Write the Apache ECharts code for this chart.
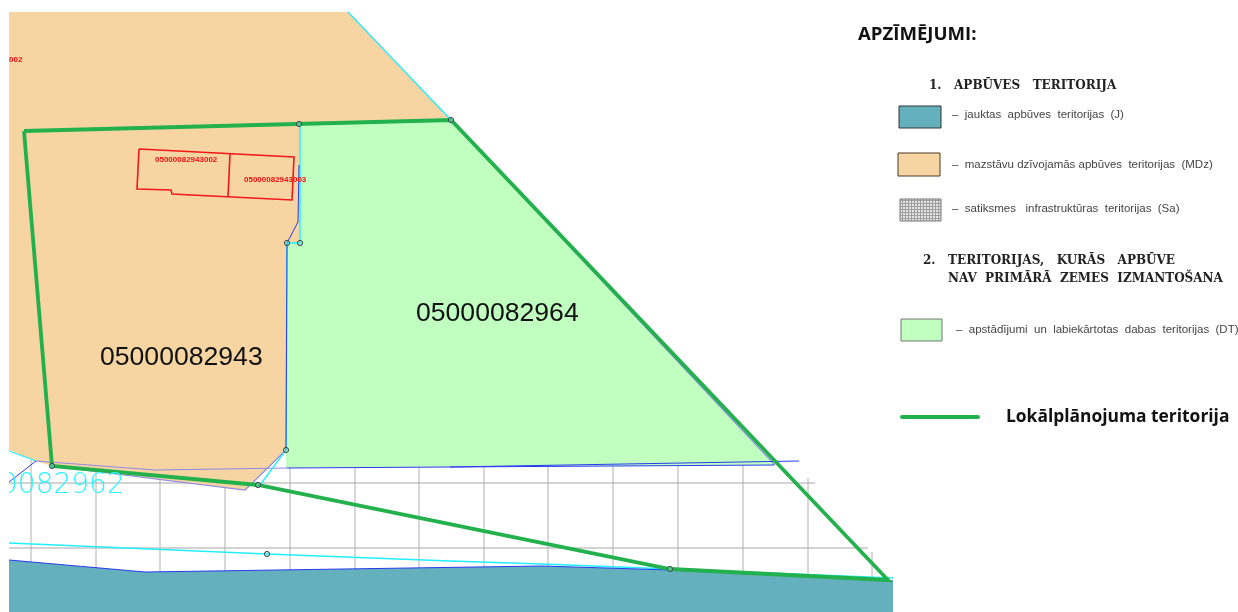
<!DOCTYPE html>
<html><head><meta charset="utf-8">
<style>html,body{margin:0;padding:0;background:#fff}#c{width:1238px;height:612px}</style>
<script src="https://cdn.jsdelivr.net/npm/echarts@6/dist/echarts.min.js"></script>
</head><body><div id="c"></div>
<script>
// map parcels (picture coordinates)
const mdzArea = [[9,12],[348,12],[451,120],[300,124],[300,243],[287,243],[286,450],[250,484],[245,490],[155,479],[52,466],[35,461],[9,450]];
const dtArea = [[300,124],[451,120],[775,465],[450,467],[286,468],[286,243],[300,243]];
const jArea = [[9,560],[145,572],[542,566],[670,570],[893,581],[893,612],[9,612]];
const clipStrip = [[0,0],[9,0],[9,612],[0,612]];
// survey grid
const gridH = [[[9,483],[815,483]],[[9,548],[868,548]]];
const gridV = [[[31,460],[31,563]],[[96,465],[96,568]],[[160,470],[160,572]],[[225,470],[225,571]],[[290,468],[290,570]],[[355,467],[355,569]],[[419,467],[419,568]],[[484,466],[484,567]],[[548,466],[548,566]],[[613,465],[613,568]],[[678,464],[678,571]],[[743,463],[743,574]],[[808,478],[808,575]],[[872,552],[872,578]]];
// boundaries
const blueLines = [[[9,482],[36,461]],[[287,468],[450,467],[774,465]],[[450,467],[799,461]],[[287,243],[298,222],[299,165]],[[287,243],[286,450]],[[9,560],[145,572],[542,566],[670,570],[893,581]]];
const lavenderLines = [[[36,461],[155,470],[287,468]],[[52,466],[245,490],[286,450]],[[451,120],[775,465]]];
const cyanLines = [[[348,12],[451,120]],[[300,124],[300,243],[287,243],[286,450],[260,485]],[[9,543],[267,554],[450,561],[542,564],[670,569],[893,578]],[[9,451],[36,461]]];
const planArea = [[24,131],[451,120],[888,580],[670,569],[258,485],[52,466],[24,131]];
const redLines = [[[139,149],[294,157],[292,200],[172,194],[171,190],[137,189],[139,149]],[[230,154],[228,197]]];
const nodes = [[299,124],[451,120],[287,243],[300,243],[286,450],[52,466],[258,485],[267,554],[670,569]];
// texts
const parcelLabels = [["05000082943",100,358],["05000082964",416,314]];
const cadLabels = [["05000082943002",155,160],["05000082943003",244,180],["002",9,60]];
const cutLabel = ["0082962",0,486];
const legendTitle = ["APZĪMĒJUMI:",858,35];
const legendPlan = ["Lokālplānojuma teritorija",1006,417];
const legendHeads = [["1.   APBŪVES   TERITORIJA",929,86],["2.   TERITORIJAS,   KURĀS   APBŪVE",923,261],["NAV  PRIMĀRĀ  ZEMES  IZMANTOŠANA",948,279]];
const legendItems = [["–  jauktas  apbūves  teritorijas  (J)",952,115],["–  mazstāvu dzīvojamās apbūves  teritorijas  (MDz)",952,165],["–  satiksmes   infrastruktūras  teritorijas  (Sa)",952,209],["–  apstādījumi  un  labiekārtotas  dabas  teritorijas  (DT)",956,330]];
// legend swatches
const swatchJ = [[899,106],[941,106],[941,128],[899,128]];
const swatchMDz = [[898,153],[940,153],[940,176],[898,176]];
const swatchSa = [[900,199],[941,199],[941,221],[900,221]];
const swatchDT = [[901,319],[942,319],[942,341],[901,341]];
const legendLine = [[902,417],[978,417]];

function hatch(){
  const c=document.createElement('canvas');c.width=3;c.height=3;
  const x=c.getContext('2d');x.fillStyle='#e2e2e2';x.fillRect(0,0,3,3);
  x.fillStyle='#a0a0a0';x.fillRect(0,2,3,1);x.fillRect(2,0,1,3);return c;
}
function pts(api,a){return a.map(p=>api.coord(p));}
function polys(list,style,z,closed){
  return {type:'custom',coordinateSystem:'cartesian2d',silent:true,animation:false,clip:false,z:z,
    data:list.map((_,i)=>[i]),encode:{x:0,y:0},
    renderItem:(p,api)=>({type:closed?'polygon':'polyline',shape:{points:pts(api,list[p.dataIndex])},style:Object.assign({},style,closed?{}:{fill:null})})};
}
function texts(list,font,fill,z){
  return {type:'custom',coordinateSystem:'cartesian2d',silent:true,animation:false,clip:false,z:z,
    data:list.map((_,i)=>[i]),encode:{x:0,y:0},
    renderItem:(p,api)=>{const t=list[p.dataIndex],q=api.coord([t[1],t[2]]);
      return {type:'text',style:{x:q[0],y:q[1],text:t[0],font:font,fill:fill,textAlign:'left',textVerticalAlign:'middle'}};}};
}
function dots(list,z){
  return {type:'custom',coordinateSystem:'cartesian2d',silent:true,animation:false,clip:false,z:z,
    data:list.map((_,i)=>[i]),encode:{x:0,y:0},
    renderItem:(p,api)=>{const q=api.coord(list[p.dataIndex]);
      return {type:'circle',shape:{cx:q[0],cy:q[1],r:2.6},style:{fill:'rgba(120,220,210,0.5)',stroke:'#3c4a48',lineWidth:1}};}};
}
const chart=echarts.init(document.getElementById('c'),null,{renderer:'canvas'});
chart.setOption({
  animation:false,backgroundColor:'#fff',
  grid:{left:0,right:0,top:0,bottom:0},
  xAxis:{type:'value',min:0,max:1238,show:false},
  yAxis:{type:'value',min:0,max:612,inverse:true,show:false},
  series:[
    polys(gridH,{stroke:'#a6a6a6',lineWidth:1},1,false),
    polys(gridV,{stroke:'#b0b0b0',lineWidth:1},1,false),
    polys([mdzArea],{fill:'#f7d5a3'},2,true),
    polys([dtArea],{fill:'#c0ffc0'},2,true),
    polys([jArea],{fill:'#64b0bd'},2,true),
    polys(lavenderLines,{stroke:'#8f8ae6',lineWidth:1.2},3,false),
    polys(cyanLines,{stroke:'#22eeff',lineWidth:1.3},3,false),
    polys(blueLines,{stroke:'#2a3af0',lineWidth:1},3,false),
    polys(redLines,{stroke:'#f01818',lineWidth:1.6},4,false),
    texts(cadLabels,'bold 8px "Liberation Sans"','#f01010',5),
    polys([planArea],{stroke:'#22b14c',lineWidth:3.8,lineJoin:'miter'},6,false),
    dots(nodes,7),
    texts(parcelLabels,'26.6px "Liberation Sans"','#111',8),
    texts([cutLabel],'200 28px "DejaVu Sans"','#2df5ff',8),
    polys([clipStrip],{fill:'#fff'},9,true),
    polys([swatchJ],{fill:'#64b0bd',stroke:'#333',lineWidth:1},10,true),
    polys([swatchMDz],{fill:'#f7d5a3',stroke:'#4a3a22',lineWidth:1},10,true),
    polys([swatchSa],{fill:{image:hatch(),repeat:'repeat'},stroke:'#777',lineWidth:1},10,true),
    polys([swatchDT],{fill:'#c0ffc0',stroke:'#777',lineWidth:1},10,true),
    polys([legendLine],{stroke:'#22b14c',lineWidth:4,lineCap:'round'},10,false),
    texts([legendTitle],'bold 18.6px "Open Sans"','#111',10),
    texts([legendPlan],'bold 17.4px "Open Sans"','#111',10),
    texts(legendHeads,'bold 12px "DejaVu Serif"','#222',10),
    texts(legendItems,'11.5px "Liberation Sans"','#444',10)
  ]
});
</script></body></html>
